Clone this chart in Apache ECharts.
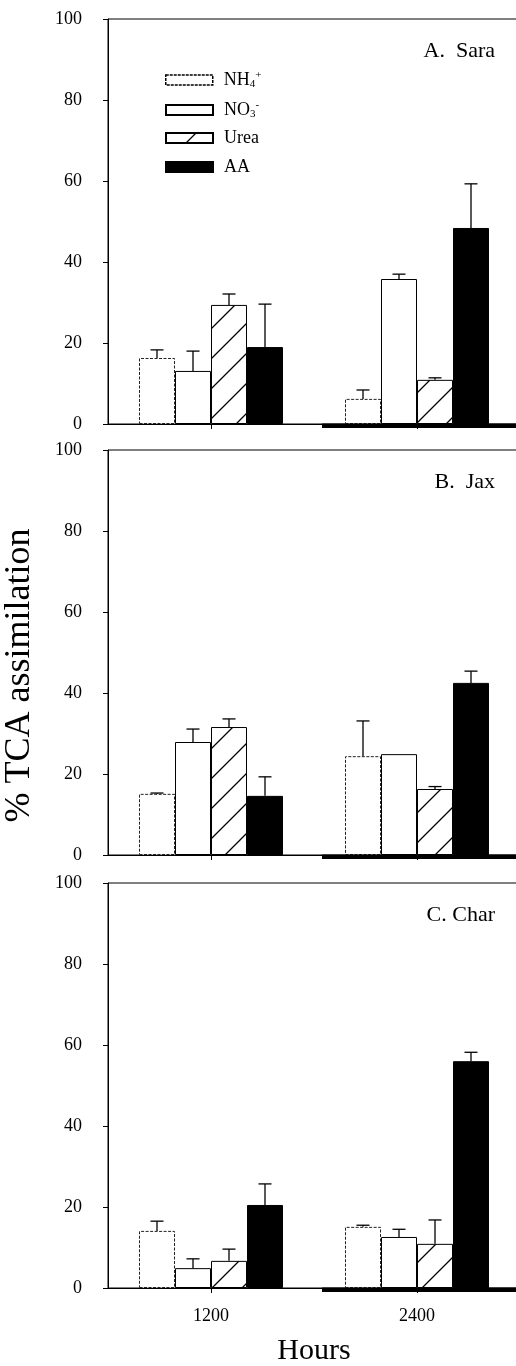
<!DOCTYPE html>
<html>
<head>
<meta charset="utf-8">
<script src="https://cdn.jsdelivr.net/npm/echarts@6/dist/echarts.min.js"></script>
<style>
  html, body { margin: 0; padding: 0; background: #fff; }
  #chart { width: 516px; height: 1366px; }
</style>
</head>
<body>
<div id="chart"></div>
<script>
// categories
const hours = ['1200', '2400'];
const sources = ['NH4+', 'NO3-', 'Urea', 'AA'];
const panelTitles = ['A.  Sara', 'B.  Jax', 'C. Char'];

// mean % per source (rows: NH4+, NO3-, Urea, AA; cols: 1200, 2400)
const saraMean = [[16.3, 6.2], [13.1, 35.8], [29.4, 10.9], [19.0, 48.4]];
const saraErr = [[2.0, 2.2], [4.9, 1.2], [2.7, 0.5], [10.6, 10.9]];
const jaxMean = [[15.1, 24.4], [27.9, 24.9], [31.6, 16.3], [14.6, 42.5]];
const jaxErr = [[0.2, 8.7], [3.2, 0], [2.0, 0.6], [4.7, 2.9]];
const charMean = [[14.1, 15.1], [4.9, 12.6], [6.7, 10.9], [20.5, 56.0]];
const charErr = [[2.4, 0.4], [2.3, 1.9], [2.9, 5.9], [5.2, 2.2]];

// y axis ticks
const yMin = 0, yMax = 100, yStep = 20;

const panelMeans = [saraMean, jaxMean, charMean];
const panelErrs = [saraErr, jaxErr, charErr];

const FONT = '"Liberation Serif", "Times New Roman", serif';
const gridLeft = 108, gridWidth = 412, panelHeight = 405;
const panelTops = [19, 450, 883];
const barW = 36;

// hatch pattern for urea
function hatch() {
  const s = 30;
  const c = document.createElement('canvas');
  c.width = s; c.height = s;
  const ctx = c.getContext('2d');
  ctx.fillStyle = '#fff';
  ctx.fillRect(0, 0, s, s);
  ctx.strokeStyle = '#000';
  ctx.lineWidth = 1.3;
  ctx.beginPath();
  ctx.moveTo(-2, s + 2); ctx.lineTo(s + 2, -2);
  ctx.moveTo(-2, 2); ctx.lineTo(2, -2);
  ctx.moveTo(s - 2, s + 2); ctx.lineTo(s + 2, s - 2);
  ctx.stroke();
  return c;
}

const dashed = [3, 1.5];
const barStyles = [
  { color: '#fff', borderColor: '#222', borderWidth: 1, borderType: dashed },
  { color: '#fff', borderColor: '#000', borderWidth: 1 },
  { color: { image: hatch(), repeat: 'repeat' }, borderColor: '#000', borderWidth: 1 },
  { color: '#000', borderColor: '#000', borderWidth: 1 }
];

const chart = echarts.init(document.getElementById('chart'));

let grids = [], xAxes = [], yAxes = [], series = [], titles = [], graphics = [];

panelTops.forEach(function (top, p) {
  grids.push({
    left: gridLeft, top: top, width: gridWidth, height: panelHeight,
    show: true, borderColor: '#000', borderWidth: 1, backgroundColor: 'transparent',
    outerBoundsMode: 'none'
  });
  let isLast = p === panelTops.length - 1;
  xAxes.push({
    type: 'category',
    gridIndex: p,
    data: hours,
    axisLine: { lineStyle: { color: '#000', width: 1 } },
    axisTick: { show: true, alignWithLabel: true, length: 5, lineStyle: { color: '#000' } },
    axisLabel: { show: isLast, color: '#000', fontFamily: FONT, fontSize: 18, margin: 19 },
    name: isLast ? 'Hours' : '',
    nameLocation: 'middle',
    nameGap: 48,
    nameTextStyle: { color: '#000', fontFamily: FONT, fontSize: 30 }
  });
  yAxes.push({
    type: 'value',
    gridIndex: p,
    min: yMin, max: yMax, interval: yStep,
    splitLine: { show: false },
    axisLine: { show: true, lineStyle: { color: '#000', width: 1 } },
    axisTick: { show: true, length: 5, lineStyle: { color: '#000' } },
    axisLabel: { color: '#000', fontFamily: FONT, fontSize: 18, margin: 26 },
    name: p === 1 ? '% TCA assimilation' : '',
    nameLocation: 'middle',
    nameGap: 70,
    nameRotate: 90,
    nameTextStyle: { color: '#000', fontFamily: FONT, fontSize: 36, padding: [0, 46, 0, 0] }
  });
  titles.push({
    text: panelTitles[p],
    right: 16,
    top: top + 16,
    textStyle: { color: '#000', fontFamily: FONT, fontWeight: 'normal', fontSize: 22 }
  });
  // heavy baseline under the 2400 group
  graphics.push({
    type: 'rect',
    shape: { x: 322, y: top + panelHeight - 0.5, width: 200, height: 4.5 },
    style: { fill: '#000' },
    z: 10
  });

  sources.forEach(function (src, s) {
    series.push({
      name: src,
      type: 'bar',
      xAxisIndex: p, yAxisIndex: p,
      barWidth: barW,
      barGap: '0%',
      itemStyle: barStyles[s],
      emphasis: { disabled: true },
      data: panelMeans[p][s]
    });
  });
  sources.forEach(function (src, s) {
    let offset = (s - (sources.length - 1) / 2) * barW;
    series.push({
      type: 'custom',
      xAxisIndex: p, yAxisIndex: p,
      z: 5,
      silent: true,
      encode: { x: 0, y: 1 },
      data: hours.map(function (h, i) { return [i, panelMeans[p][s][i], panelErrs[p][s][i]]; }),
      renderItem: function (params, api) {
        let cat = api.value(0), v = api.value(1), e = api.value(2);
        if (!e) return null;
        let base = api.coord([cat, v]);
        let tip = api.coord([cat, v + e]);
        let x = base[0] + offset;
        let st = { stroke: '#000', lineWidth: 1.3, fill: null };
        return {
          type: 'group',
          children: [
            { type: 'line', shape: { x1: x, y1: base[1], x2: x, y2: tip[1] }, style: st },
            { type: 'line', shape: { x1: x - 6.5, y1: tip[1], x2: x + 6.5, y2: tip[1] }, style: st }
          ]
        };
      }
    });
  });
});

// legend, one row each so the spacing stays even
const legendRows = [65, 95, 124, 153];
const legends = sources.map(function (src, s) {
  return {
    data: [src],
    left: 160,
    top: legendRows[s],
    icon: 'rect',
    itemWidth: 47,
    itemHeight: 10,
    selectedMode: false,
    itemStyle: s === 0 ? { borderType: [3, 1], borderColor: '#000', borderWidth: 1.5 } : {},
    formatter: function (n) {
      if (n === 'NH4+') return 'NH{sub|4}{sup|+}';
      if (n === 'NO3-') return 'NO{sub|3}{sup|-}';
      return n;
    },
    textStyle: {
      color: '#000', fontFamily: FONT, fontSize: 18, padding: [0, 0, 0, 6],
      rich: {
        sub: { fontFamily: FONT, fontSize: 11, color: '#000', padding: [9, 0, 0, 0] },
        sup: { fontFamily: FONT, fontSize: 11, color: '#000', padding: [0, 0, 9, 0] }
      }
    }
  };
});

chart.setOption({
  animation: false,
  backgroundColor: '#fff',
  title: titles,
  legend: legends,
  grid: grids,
  xAxis: xAxes,
  yAxis: yAxes,
  series: series,
  graphic: graphics
});
</script>
</body>
</html>
